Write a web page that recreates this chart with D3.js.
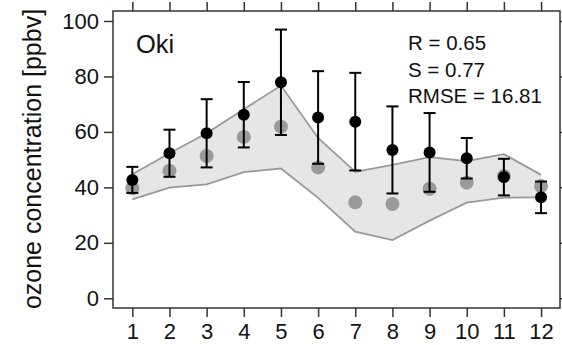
<!DOCTYPE html>
<html>
<head>
<meta charset="utf-8">
<script src="https://cdn.jsdelivr.net/npm/d3@7"></script>
<style>
  body { margin: 0; background: #fff; }
  text { font-family: "Liberation Sans", Arial, sans-serif; fill: #111; }
</style>
</head>
<body>
<svg id="grafico" width="562" height="345"></svg>
<script>
const meses = [1, 2, 3, 4, 5, 6, 7, 8, 9, 10, 11, 12];
const obs_media = [42.7, 52.3, 59.5, 66.2, 77.9, 65.2, 63.7, 53.5, 52.6, 50.5, 43.7, 36.4];
const obs_desvio = [4.7, 8.5, 12.3, 11.8, 19.0, 16.7, 17.6, 15.7, 14.2, 7.3, 6.6, 5.7];
const modelo = [39.7, 46.0, 51.3, 58.2, 61.9, 47.2, 34.6, 34.0, 39.5, 41.7, 44.1, 40.5];
const faixa_sup = [44.7, 52.3, 59.5, 68.2, 76.7, 57.8, 45.6, 48.1, 50.9, 49.5, 52.0, 44.5];
const faixa_inf = [35.7, 39.9, 41.1, 45.5, 46.8, 36.2, 24.0, 21.0, 28.0, 34.5, 36.3, 36.4];
const ticks_y = [0, 20, 40, 60, 80, 100];
const estatisticas = ["R = 0.65", "S = 0.77", "RMSE = 16.81"];

const svg = d3.select("#grafico");
const esq = 113, dir = 560, topo = 11, base = 308;

const x = d3.scaleLinear().domain([0.48, 12.51]).range([esq, dir]);
const y = d3.scaleLinear().domain([-3.5, 103.6]).range([base, topo]);

// faixa do modelo
const dados = meses.map((m, i) => ({ m, sup: faixa_sup[i], inf: faixa_inf[i] }));
svg.append("path")
    .datum(dados)
    .attr("fill", "#e6e6e6")
    .attr("d", d3.area().x(d => x(d.m)).y0(d => y(d.inf)).y1(d => y(d.sup)));
["sup", "inf"].forEach(k => {
  svg.append("path")
      .datum(dados)
      .attr("fill", "none")
      .attr("stroke", "#999")
      .attr("stroke-width", 1.8)
      .attr("d", d3.line().x(d => x(d.m)).y(d => y(d[k])));
});

// pontos do modelo
svg.selectAll(".modelo")
    .data(modelo)
    .enter()
    .append("circle")
    .attr("cx", (d, i) => x(meses[i]))
    .attr("cy", d => y(d))
    .attr("r", 7)
    .attr("fill", "#8c8c8c")
    .attr("opacity", 0.85);

// barras de erro
const barras = svg.selectAll(".erro")
    .data(obs_media)
    .enter()
    .append("g")
    .attr("stroke", "#000")
    .attr("stroke-width", 2);
barras.append("line")
    .attr("x1", (d, i) => x(meses[i])).attr("x2", (d, i) => x(meses[i]))
    .attr("y1", (d, i) => y(d - obs_desvio[i])).attr("y2", (d, i) => y(d + obs_desvio[i]));
[-1, 1].forEach(s => {
  barras.append("line")
      .attr("x1", (d, i) => x(meses[i]) - 6).attr("x2", (d, i) => x(meses[i]) + 6)
      .attr("y1", (d, i) => y(d + s * obs_desvio[i])).attr("y2", (d, i) => y(d + s * obs_desvio[i]));
});

svg.selectAll(".obs")
    .data(obs_media)
    .enter()
    .append("circle")
    .attr("cx", (d, i) => x(meses[i]))
    .attr("cy", d => y(d))
    .attr("r", 6)
    .attr("fill", "#000");

// moldura e eixos
svg.append("rect")
    .attr("x", esq).attr("y", topo)
    .attr("width", dir - esq).attr("height", base - topo)
    .attr("fill", "none").attr("stroke", "#333").attr("stroke-width", 1.5);

function estilo(g) {
  g.select(".domain").remove();
  g.selectAll(".tick line").attr("stroke", "#333").attr("stroke-width", 1.5);
  g.selectAll(".tick text").style("font-size", "22px").attr("fill", "#111");
}

svg.append("g").attr("transform", `translate(0,${base})`)
    .call(d3.axisBottom(x).tickValues(meses).tickSize(9).tickPadding(6))
    .call(estilo);
svg.append("g").attr("transform", `translate(0,${topo})`)
    .call(d3.axisTop(x).tickValues(meses).tickSize(9).tickFormat(""))
    .call(estilo);
svg.append("g").attr("transform", `translate(${esq},0)`)
    .call(d3.axisLeft(y).tickValues(ticks_y).tickSize(9).tickPadding(5))
    .call(estilo);
svg.append("g").attr("transform", `translate(${dir},0)`)
    .call(d3.axisRight(y).tickValues(ticks_y).tickSize(9).tickFormat(""))
    .call(estilo);

svg.append("text")
    .attr("transform", "translate(41,159) rotate(-90)")
    .attr("text-anchor", "middle")
    .style("font-size", "25px")
    .text("ozone concentration [ppbv]");

svg.append("text")
    .attr("x", 136).attr("y", 53)
    .style("font-size", "25.5px")
    .text("Oki");

svg.selectAll(".estat")
    .data(estatisticas)
    .enter()
    .append("text")
    .attr("x", 408)
    .attr("y", (d, i) => 50 + i * 26.5)
    .style("font-size", "20.5px")
    .text(d => d);
</script>
</body>
</html>
